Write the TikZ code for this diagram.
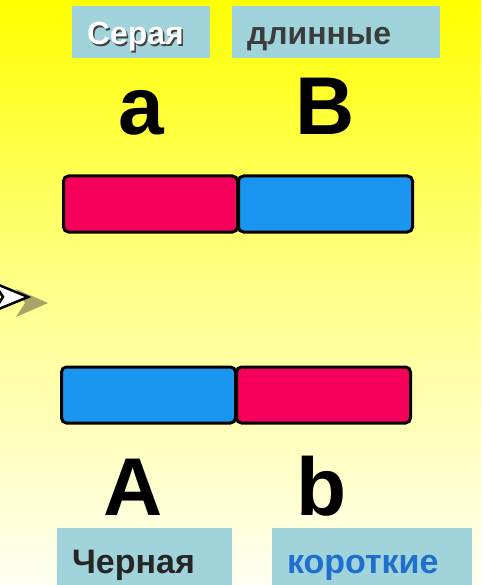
\documentclass[tikz,border=0pt]{standalone}
\usepackage{fontspec}
\setmainfont{Liberation Sans}
\usetikzlibrary{positioning}
\definecolor{bgyellow}{HTML}{FFFF00}
\definecolor{bgmid}{HTML}{FFFF8C}
\definecolor{bgpale}{HTML}{FFFFF2}
\definecolor{lblcyan}{HTML}{A0D3DA}
\definecolor{genred}{HTML}{F5005A}
\definecolor{genblue}{HTML}{1A96F0}
\definecolor{txtblue}{HTML}{1F6FCF}
\definecolor{txtgray}{HTML}{3C3C3C}
\definecolor{shadowolive}{HTML}{A9A46A}
\newcommand\shadowed[1]{\makebox[0pt][l]{\hspace{1.5pt}\raisebox{-1.5pt}{\color{black!75}#1}}#1}
\tikzset{
  lblbox/.style 2 args={fill=lblcyan, inner xsep=15pt, inner ysep=0pt, align=left,
    font=\fontsize{#1}{#1}\selectfont\bfseries, text height=#2, text depth=0pt},
  genbox/.style={draw=black, line width=3pt, rounded corners=5pt, outer sep=0pt,
    minimum width=174pt, minimum height=56pt, inner sep=0pt},
  sred/.style={fill=genred},
  sblue/.style={fill=genblue},
  allele/.style={font=\fontsize{82}{82}\selectfont\bfseries, anchor=base, inner sep=0pt},
}

\begin{document}
\begin{tikzpicture}[x=1pt, y=-1pt]
  \useasboundingbox (0,0) rectangle (481,585);
  \shade[top color=bgyellow, bottom color=bgpale, middle color=bgmid] (0,0) rectangle (481,585);
  % labels
  \node[lblbox={32}{26pt}, text=white, text width=108pt, minimum height=52pt] (gray) at (141,32) {\shadowed{Серая}};
  \node[lblbox={32}{26pt}, text=txtgray, text width=178pt, minimum height=52pt] (long) at (336,32) {длинные};
  \node[lblbox={34}{33pt}, text=black!85, text width=145pt, minimum height=57pt] (black) at (144.5,556.5) {Черная};
  \node[lblbox={34}{33pt}, text=txtblue, text width=170pt, minimum height=57pt] (short) at (372,556.5) {короткие};
  % alleles
  \node[allele] (a) at (141,135) {a};
  \node[allele] (B) at (325,135) {B};
  \node[allele] (A) at (133,515) {A};
  \node[allele] (b) at (322,515) {b};
  % chromosomes
  \node[genbox, sred] (c1a) at (150.5,204) {};
  \node[genbox, sblue, right=1pt of c1a] (c1b) {};
  \node[genbox, sblue] (c2a) at (148.5,395) {};
  \node[genbox, sred, right=1pt of c2a] (c2b) {};
  % arrow mark at the left edge
  \fill[shadowolive] (16,289) -- (48,303) -- (16,317) -- (25,303) -- cycle;
  \draw[line width=2.5pt, fill=white, line join=miter] (-6,283) -- (28,297) -- (-6,311) -- (3,297) -- cycle;
\end{tikzpicture}
\end{document}
